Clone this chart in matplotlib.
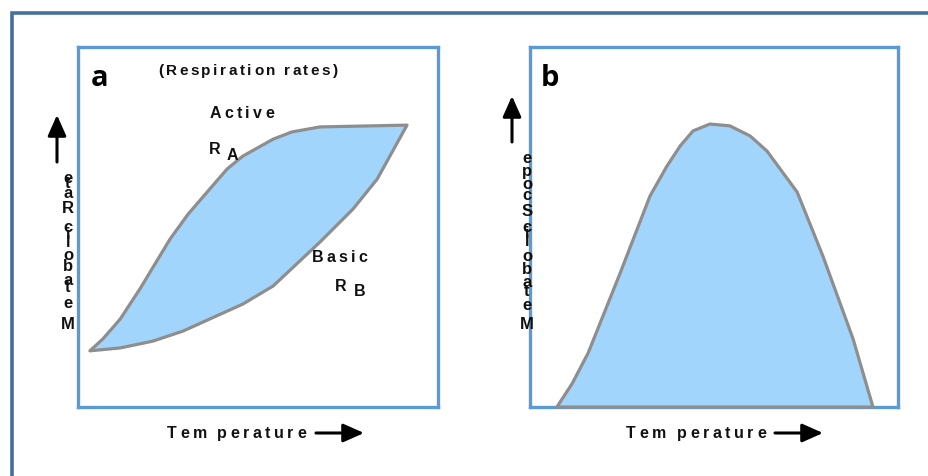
import numpy as np
import matplotlib
matplotlib.use("Agg")
import matplotlib.pyplot as plt

# panel a: respiration rates (temperature 0-100, rate 0-100)
active_temp = [3.3, 6.9, 11.7, 17.2, 25.6, 30.6, 41.4, 45.8, 54.2, 59.4, 67.2, 91.4]
active_rate = [15.6, 18.9, 24.4, 32.8, 46.7, 53.6, 66.1, 69.7, 74.4, 76.4, 77.8, 78.3]
basic_temp = [3.3, 11.7, 20.8, 29.2, 45.8, 54.2, 67.2, 76.4, 83.1, 91.4]
basic_rate = [15.6, 16.4, 18.3, 21.1, 28.6, 33.6, 45.8, 55.0, 63.3, 78.3]

# panel b: metabolic scope
scope_temp = [7.3, 11.4, 15.8, 24.5, 32.6, 37.2, 40.8, 44.3, 48.9, 54.3, 59.8, 64.4, 72.6, 79.6, 87.8, 93.2]
scope_val = [0.0, 6.4, 15.0, 37.2, 58.6, 66.9, 72.5, 76.7, 78.6, 78.1, 75.3, 71.1, 59.7, 41.9, 18.9, 0.0]

ylabel_a = "etaR cilobateM"
ylabel_b = "epocS cilobateM"

W, H = 929, 477
FILL = "#a2d5fc"
EDGE = "#8e8e8e"
BOX = "#5b9bd5"
FRAME = "#44709e"
FONT = "Liberation Sans"

fig = plt.figure(figsize=(W / 100, H / 100), dpi=100)


def panel(x0, y0, x1, y1):
    ax = fig.add_axes([x0 / W, 1 - y1 / H, (x1 - x0) / W, (y1 - y0) / H])
    ax.set_xlim(0, 100)
    ax.set_ylim(0, 100)
    ax.set_xticks([])
    ax.set_yticks([])
    for s in ax.spines.values():
        s.set_color(BOX)
        s.set_linewidth(2.4)
    return ax


ax_a = panel(78, 48, 438, 408)
ax_b = panel(530, 48, 898, 408)

poly_x = active_temp + basic_temp[::-1]
poly_y = active_rate + basic_rate[::-1]
ax_a.fill(poly_x, poly_y, facecolor=FILL, edgecolor=EDGE, linewidth=2.3,
          joinstyle="round")

ax_b.fill(scope_temp, scope_val, facecolor=FILL, edgecolor=EDGE, linewidth=2.3,
          joinstyle="round", clip_on=False, zorder=3)

# overlay in pixel coordinates for the annotations
ov = fig.add_axes([0, 0, 1, 1], zorder=5)
ov.set_xlim(0, W)
ov.set_ylim(H, 0)
ov.axis("off")
ov.patch.set_alpha(0)

# outer frame
ov.plot([12, 12, W + 5], [H + 5, 14, 14], color=FRAME, lw=2.6,
        solid_joinstyle="miter", clip_on=False)

renderer = fig.canvas.get_renderer()


def spaced(s, x0, x1, y, size, weight="bold"):
    # draw characters one by one, spread out to fill x0..x1
    widths = []
    for ch in s:
        if ch == " ":
            widths.append(size * 0.3)
            continue
        t = ov.text(0, 0, ch, fontsize=size, fontweight=weight, family=FONT)
        widths.append(t.get_window_extent(renderer).width)
        t.remove()
    gap = (x1 - x0 - sum(widths)) / (len(s) - 1)
    x = x0
    for ch, w in zip(s, widths):
        if ch != " ":
            ov.text(x, y, ch, fontsize=size, fontweight=weight, family=FONT,
                    ha="left", va="center", color="#111111")
        x += w + gap


spaced("(Respiration rates)", 158, 338, 71, 11)
spaced("Active", 210, 274, 113, 11.5)
spaced("Basic", 312, 367, 258, 11.5)
spaced("Tem perature", 167, 306, 434, 11.5)
spaced("Tem perature", 626, 766, 434, 11.5)

for txt, x, y in [("R", 209, 150), ("A", 227, 156), ("R", 335, 287), ("B", 354, 292)]:
    ov.text(x, y, txt, fontsize=11.5, fontweight="bold", family=FONT,
            ha="left", va="center", color="#111111")

ov.text(91, 78, "a", fontsize=21, fontweight="bold", family="Open Sans",
        ha="left", va="center")
ov.text(541, 78, "b", fontsize=21, fontweight="bold", family="Open Sans",
        ha="left", va="center")

# stacked vertical labels
ya = [179, 184, 194, 209, 0, 228, 235, 243, 255, 267, 281, 288, 304, 325]
for ch, y in zip(ylabel_a, ya):
    if ch != " ":
        ov.text(68, y, ch, fontsize=12, fontweight="bold", family=FONT,
                ha="center", va="center", color="#111111")
yb = [159, 172, 185, 196, 212, 0, 228, 234, 242, 257, 270, 283, 292, 306, 325]
for ch, y in zip(ylabel_b, yb):
    if ch != " ":
        ov.text(527, y, ch, fontsize=12, fontweight="bold", family=FONT,
                ha="center", va="center", color="#111111")

arrow = dict(arrowstyle="-|>,head_length=0.45,head_width=0.2", lw=2.2,
             color="black", mutation_scale=28, shrinkA=0, shrinkB=0)
ov.annotate("", xy=(364, 434), xytext=(316, 434), arrowprops=arrow)
ov.annotate("", xy=(823, 434), xytext=(775, 434), arrowprops=arrow)
ov.annotate("", xy=(57, 116), xytext=(57, 163), arrowprops=arrow)
ov.annotate("", xy=(512, 97), xytext=(512, 143), arrowprops=arrow)

fig.savefig("out.png", dpi=100)
